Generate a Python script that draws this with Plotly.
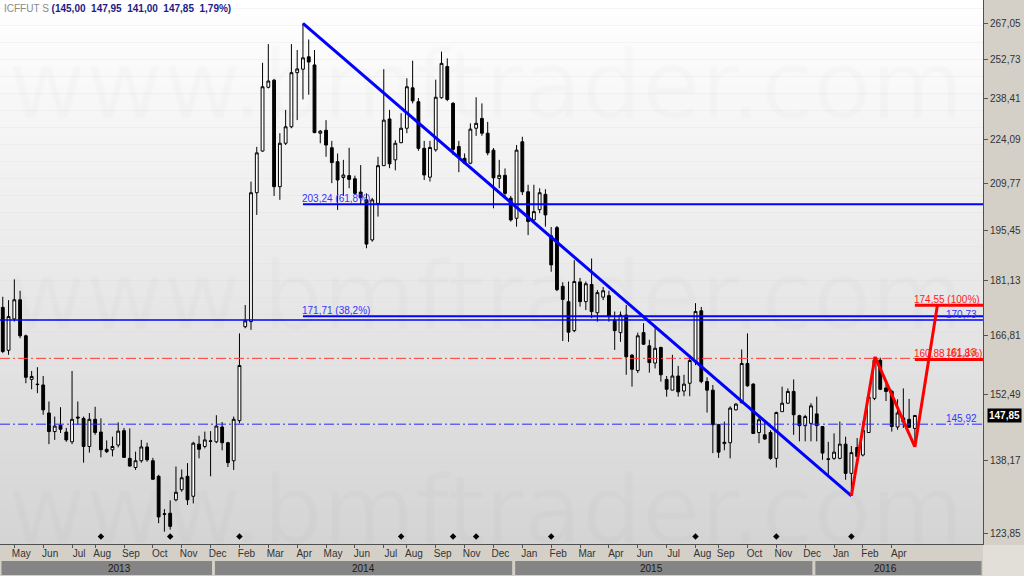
import math
import pandas as pd
import plotly.graph_objects as go

# ---------------- data (weekly bars, ICFFUT) ----------------
dates = pd.date_range("2013-04-22", periods=159, freq="7D")

opens = [174.0, 163.1, 171.0, 176.0, 166.7, 156.1, 155.0, 154.8, 148.4, 144.3,
         145.7, 144.2, 142.1, 147.5, 147.2, 141.1, 147.0, 144.2, 140.5, 140.4,
         141.4, 144.5, 138.6, 136.7, 138.1, 141.0, 138.1, 134.9, 127.5, 127.6,
         130.2, 132.2, 134.9, 130.9, 141.6, 141.1, 142.3, 142.1, 145.3, 141.9,
         138.1, 146.7, 169.0, 170.3, 206.8, 220.2, 242.4, 245.0, 208.7, 222.8,
         228.4, 247.8, 249.1, 253.8, 250.7, 226.2, 227.2, 221.3, 216.7, 211.6,
         212.2, 211.2, 207.0, 204.6, 192.6, 203.5, 215.4, 231.1, 217.3, 223.0,
         227.9, 242.2, 237.2, 221.1, 211.7, 220.6, 238.6, 250.1, 236.6, 221.7,
         217.8, 216.2, 227.9, 231.3, 226.2, 220.5, 211.3, 212.3, 205.1, 199.0,
         223.3, 207.1, 198.5, 201.6, 206.3, 193.8, 196.2, 179.6, 175.5, 168.0,
         180.8, 175.5, 180.1, 172.6, 176.7, 177.1, 170.7, 167.5, 172.0, 161.9,
         158.2, 167.5, 164.2, 160.0, 163.8, 156.1, 153.6, 156.9, 153.4, 155.2,
         160.3, 173.1, 155.6, 153.6, 145.8, 141.7, 141.9, 149.1, 150.7, 159.9,
         155.0, 144.1, 143.6, 144.1, 138.6, 148.7, 150.6, 153.3, 147.8, 145.6,
         146.1, 148.2, 145.4, 138.5, 138.6, 138.6, 141.6, 135.5, 140.9, 139.3,
         144.1, 151.7, 160.7, 154.1, 153.3, 145.3, 146.4, 147.0, 145.00]
highs = [176.8, 175.9, 181.5, 178.4, 167.0, 158.1, 159.0, 156.9, 151.0, 147.6,
         149.7, 145.1, 158.1, 151.0, 147.6, 148.4, 149.8, 147.2, 142.4, 143.2,
         146.3, 145.1, 145.0, 140.0, 142.5, 141.9, 138.7, 135.2, 128.4, 130.1,
         136.9, 136.3, 137.6, 142.1, 143.4, 144.3, 144.4, 147.9, 146.4, 142.1,
         147.6, 167.3, 174.6, 210.3, 221.6, 251.5, 258.7, 245.5, 226.2, 234.3,
         258.7, 256.4, 266.9, 260.5, 256.4, 227.3, 230.7, 223.6, 219.4, 217.3,
         221.3, 212.2, 215.6, 206.6, 205.2, 218.3, 249.1, 234.3, 223.8, 233.1,
         245.7, 252.3, 238.5, 223.6, 223.6, 245.2, 255.8, 253.2, 237.1, 223.6,
         219.4, 229.6, 238.8, 236.6, 230.1, 221.2, 217.3, 214.5, 205.8, 222.2,
         225.0, 209.3, 209.3, 208.2, 207.9, 196.4, 196.7, 180.7, 180.9, 186.8,
         181.9, 180.9, 187.3, 178.6, 179.4, 178.4, 172.9, 172.9, 174.6, 162.2,
         167.5, 169.9, 165.7, 168.6, 164.0, 156.9, 162.0, 159.3, 157.2, 161.9,
         175.1, 174.1, 156.6, 154.8, 146.0, 146.5, 149.9, 150.6, 163.3, 167.3,
         155.2, 147.6, 146.5, 144.6, 148.7, 154.4, 154.0, 156.1, 148.0, 148.0,
         150.6, 152.1, 145.4, 142.1, 143.9, 146.5, 143.2, 141.2, 142.9, 146.5,
         153.0, 161.5, 161.3, 155.2, 153.7, 151.5, 154.0, 151.6, 147.95]
lows = [162.4, 162.0, 170.3, 166.1, 155.2, 153.8, 152.9, 148.0, 141.6, 142.5,
        144.0, 142.1, 141.6, 145.8, 137.7, 139.8, 143.6, 138.8, 139.7, 139.0,
        140.9, 138.7, 136.9, 136.2, 137.7, 137.9, 134.2, 125.7, 124.1, 124.5,
        129.9, 131.8, 129.2, 129.5, 138.6, 140.7, 134.9, 141.8, 140.3, 136.8,
        136.2, 146.1, 168.6, 168.2, 200.0, 220.0, 242.0, 205.8, 204.6, 222.2,
        227.9, 230.7, 238.0, 239.7, 226.2, 222.8, 218.3, 209.8, 201.5, 205.8,
        208.2, 206.1, 203.0, 190.2, 192.1, 199.5, 215.3, 214.6, 213.9, 222.8,
        226.2, 236.6, 220.3, 210.8, 210.3, 220.0, 238.3, 237.4, 218.9, 213.3,
        215.9, 215.9, 225.3, 225.3, 218.8, 202.0, 208.2, 205.5, 198.0, 196.5,
        206.1, 194.0, 198.0, 200.5, 196.5, 183.6, 178.3, 165.4, 165.2, 167.6,
        174.2, 173.3, 171.2, 170.3, 175.9, 170.3, 163.2, 165.2, 157.2, 154.4,
        157.6, 164.4, 157.7, 158.7, 155.6, 152.1, 153.6, 152.1, 152.2, 152.2,
        159.5, 155.2, 148.5, 139.7, 138.7, 140.3, 138.6, 149.0, 150.6, 154.4,
        143.8, 141.8, 142.5, 138.3, 136.7, 148.7, 150.5, 143.6, 142.2, 142.2,
        142.2, 142.2, 138.3, 135.2, 138.3, 138.4, 134.2, 131.0, 139.0, 139.0,
        144.0, 151.3, 153.6, 151.1, 144.3, 144.7, 145.1, 145.1, 141.00]
closes = [162.8, 171.6, 176.0, 166.7, 156.6, 156.8, 154.9, 149.1, 144.3, 145.5,
          144.8, 142.5, 147.0, 147.3, 141.1, 147.0, 144.1, 140.4, 140.0, 141.1,
          144.4, 138.8, 137.0, 138.1, 141.0, 138.3, 134.3, 126.9, 127.4, 125.1,
          131.7, 134.6, 130.2, 141.8, 140.5, 142.5, 142.2, 145.5, 141.9, 137.7,
          147.0, 159.4, 170.5, 206.8, 219.6, 242.6, 244.7, 208.7, 222.8, 228.4,
          247.8, 249.2, 253.4, 251.8, 226.4, 226.9, 222.2, 216.4, 210.8, 212.4,
          211.0, 206.6, 205.3, 191.4, 204.6, 215.4, 230.7, 216.0, 222.8, 227.9,
          242.6, 237.5, 221.1, 212.4, 221.4, 238.8, 251.3, 238.0, 220.8, 218.3,
          216.2, 227.6, 229.6, 226.2, 219.6, 211.5, 212.3, 206.6, 198.5, 220.5,
          207.1, 198.0, 201.0, 206.8, 200.0, 185.5, 178.7, 176.1, 167.6, 180.9,
          175.5, 180.3, 172.9, 177.9, 178.4, 171.6, 168.0, 172.0, 161.5, 158.5,
          166.7, 164.6, 160.1, 163.6, 157.2, 153.8, 156.9, 153.2, 155.0, 160.6,
          172.9, 155.6, 153.6, 145.8, 139.9, 142.0, 149.5, 150.4, 159.9, 154.6,
          143.9, 146.9, 142.7, 138.6, 148.5, 150.6, 153.3, 148.0, 145.6, 147.6,
          150.0, 145.6, 139.7, 138.4, 139.9, 141.6, 135.5, 139.8, 139.0, 144.6,
          152.0, 160.7, 153.8, 153.3, 145.4, 148.4, 147.3, 145.25, 147.85]

price_ticks = [267.05, 252.73, 238.41, 224.09, 209.77, 195.45,
               181.13, 166.81, 152.49, 138.17, 123.85]
month_tick_bars = [2, 7, 12, 16, 21, 26, 31, 36, 41, 46, 51, 56, 61, 66, 70, 75,
                   80, 85, 90, 95, 100, 105, 110, 115, 120, 124, 129, 134, 139,
                   144, 149, 154]
month_tick_labels = [dates[i].strftime("%b") for i in month_tick_bars]

event_bars = [17, 29, 41, 69, 78, 82, 95, 120, 134, 147]
event_level = 123.2

# drawn studies
trend_bars = [52, 147]
trend_prices = [266.9, 131.0]
zigzag_bars = [147, 151.1, 158, 161.9]
zigzag_prices = [131.0, 161.5, 141.0, 174.55]
blue_fib_levels = [203.24, 171.71]
blue_fib_labels = ["61,8%", "38,2%"]
blue_fib_start = 52
red_fib_levels = [174.55, 160.88]
red_fib_labels = ["100%", "61,8%"]
red_fib_start = 158
solid_level = 170.73
blue_dd_level = 145.92
red_dd_level = 161.13

view_prices = [121.82, 276.47]
x_view = [-0.48, 169.8]

# ---------------- helpers ----------------
def br(v):
    return f"{v:.2f}".replace(".", ",")

def lg(v):
    return math.log10(v)

n = len(closes)
xs = list(range(n))
PLOT_H = 544.0

def xp(v):
    return (v - x_view[0]) / (x_view[1] - x_view[0])

def yp(px):
    return (PLOT_H - px) / PLOT_H

fig = go.Figure()

fig.add_trace(go.Candlestick(
    x=xs, open=opens, high=highs, low=lows, close=closes,
    increasing=dict(line=dict(color="#000000", width=1), fillcolor="#ffffff"),
    decreasing=dict(line=dict(color="#000000", width=1), fillcolor="#000000"),
    whiskerwidth=0, showlegend=False, hoverinfo="skip"))

fig.add_trace(go.Scatter(
    x=event_bars, y=[event_level] * len(event_bars), mode="markers",
    marker=dict(color="#000000", size=5, symbol="diamond"),
    showlegend=False, hoverinfo="skip"))

shapes = []
# background gradient
bands = 64
for i in range(bands):
    s = int(round(255 - (255 - 212) * (i + 0.5) / bands))
    shapes.append(dict(type="rect", xref="paper", yref="paper",
                       x0=0, x1=1, y0=1 - i / bands, y1=1 - (i + 1) / bands,
                       fillcolor=f"rgb({s},{s},{s})", line=dict(width=0),
                       layer="below"))

# horizontal levels
shapes.append(dict(type="line", xref="paper", yref="y", x0=0, x1=1,
                   y0=solid_level, y1=solid_level,
                   line=dict(color="#0000ff", width=1.5)))
shapes.append(dict(type="line", xref="paper", yref="y", x0=0, x1=1,
                   y0=blue_dd_level, y1=blue_dd_level,
                   line=dict(color="#2a2aff", width=1, dash="10px,3px,2px,3px")))
shapes.append(dict(type="line", xref="paper", yref="y", x0=0, x1=1,
                   y0=red_dd_level, y1=red_dd_level,
                   line=dict(color="#ff3c3c", width=1, dash="10px,3px,2px,3px")))
for lv in blue_fib_levels:
    shapes.append(dict(type="line", xref="x", yref="y", x0=blue_fib_start,
                       x1=x_view[1], y0=lv, y1=lv,
                       line=dict(color="#0000ff", width=2)))
for lv in red_fib_levels:
    shapes.append(dict(type="line", xref="x", yref="y", x0=red_fib_start,
                       x1=x_view[1], y0=lv, y1=lv,
                       line=dict(color="#ff0000", width=3)))
# trend line
shapes.append(dict(type="line", xref="x", yref="y",
                   x0=trend_bars[0], y0=trend_prices[0],
                   x1=trend_bars[1], y1=trend_prices[1],
                   line=dict(color="#0000ff", width=3)))
# zigzag
for i in range(len(zigzag_bars) - 1):
    shapes.append(dict(type="line", xref="x", yref="y",
                       x0=zigzag_bars[i], y0=zigzag_prices[i],
                       x1=zigzag_bars[i + 1], y1=zigzag_prices[i + 1],
                       line=dict(color="#ff0000", width=3)))

# year band below the month labels
years = sorted(set(d.year for d in dates))
year_ann = []
for yr in years:
    idx = [i for i, d in enumerate(dates) if d.year == yr]
    left = max(idx[0] - 0.5, x_view[0])
    right = idx[-1] + 0.5 if yr != years[-1] else x_view[1]
    p0, p1 = xp(left), xp(right)
    shapes.append(dict(type="rect", xref="paper", yref="paper",
                       x0=p0 + 0.0015, x1=p1 - 0.0015, y0=yp(575), y1=yp(561),
                       fillcolor="#858585", line=dict(width=0)))
    year_ann.append(dict(x=(p0 + p1) / 2, y=yp(568), xref="paper", yref="paper",
                         yanchor="middle", text=str(yr), showarrow=False,
                         borderpad=0,
                         font=dict(family="Liberation Sans", size=10, color="#1a1a1a")))
# lower-right corner block
shapes.append(dict(type="rect", xref="paper", yref="paper", x0=1.0, x1=1024 / 983,
                   y0=yp(576), y1=yp(545), fillcolor="#e2dfd8",
                   line=dict(width=0)))

ann = []
# watermark rows
for base in [118, 329, 543]:
    ann.append(dict(x=0, xref="paper", xanchor="left", xshift=6,
                    y=yp(base + 24), yref="paper", yanchor="bottom",
                    text="www.bmftrader.com", showarrow=False,
                    font=dict(family="DejaVu Sans", size=95,
                              color="rgba(255,255,255,0.02)",
                              shadow="1px 0 0 rgba(90,90,90,0.13), -1px 0 0 rgba(90,90,90,0.13), 0 1px 0 rgba(90,90,90,0.13), 0 -1px 0 rgba(90,90,90,0.13)")))

lab_font_b = dict(family="Liberation Sans", size=10, color="#3434ff")
lab_font_r = dict(family="Liberation Sans", size=10, color="#ff2020")
for lv, txt in zip(blue_fib_levels, blue_fib_labels):
    ann.append(dict(x=blue_fib_start, y=lg(lv), xref="x", yref="y",
                    xanchor="left", yanchor="bottom", yshift=-2, xshift=-3,
                    text=f"{br(lv)} ({txt})", showarrow=False, font=lab_font_b))
for lv, txt in zip(red_fib_levels, red_fib_labels):
    ann.append(dict(x=red_fib_start, y=lg(lv), xref="x", yref="y",
                    xanchor="left", yanchor="bottom", yshift=-2, xshift=-3,
                    text=f"{br(lv)} ({txt})", showarrow=False, font=lab_font_r))
ann.append(dict(x=1, xref="paper", xanchor="right", xshift=-4, y=lg(solid_level),
                yref="y", yanchor="bottom", yshift=-2, text=br(solid_level),
                showarrow=False, font=lab_font_b))
ann.append(dict(x=1, xref="paper", xanchor="right", xshift=-4, y=lg(blue_dd_level),
                yref="y", yanchor="bottom", yshift=-2, text=br(blue_dd_level),
                showarrow=False, font=lab_font_b))
ann.append(dict(x=1, xref="paper", xanchor="right", xshift=-4, y=lg(red_dd_level),
                yref="y", yanchor="bottom", yshift=-2, text=br(red_dd_level),
                showarrow=False, font=lab_font_r))

# last price tag
ann.append(dict(x=1, xref="paper", xanchor="left", xshift=4, y=lg(closes[-1]),
                yref="y", yanchor="middle", text=f"<b>{br(closes[-1])}</b>",
                showarrow=False, bgcolor="#000000", borderpad=1,
                font=dict(family="Liberation Sans", size=10, color="#ffffff")))

# title
pct = (closes[-1] / closes[-2] - 1) * 100
title_vals = f"({br(opens[-1])}  {br(highs[-1])}  {br(lows[-1])}  {br(closes[-1])}  {br(pct)}%)"
ann.append(dict(x=0, xref="paper", xanchor="left", xshift=2, y=1, yref="paper",
                yanchor="top", yshift=-1,
                text=f"<span style='color:#8a8a8a'>ICFFUT S</span> <b>{title_vals}</b>",
                showarrow=False,
                font=dict(family="Liberation Sans", size=10, color="#1c1c88")))
ann.extend(year_ann)

fig.update_layout(
    width=1024, height=576, autosize=False,
    margin=dict(l=0, r=41, t=0, b=32, pad=0),
    paper_bgcolor="#d4d0c8", plot_bgcolor="#d8d8d8",
    shapes=shapes, annotations=ann, showlegend=False,
    xaxis=dict(type="linear", range=x_view, rangeslider=dict(visible=False),
               tickvals=month_tick_bars, ticktext=month_tick_labels,
               ticks="outside", ticklen=3, tickcolor="#555555",
               ticklabelshift=7, ticklabelstandoff=-3,
               tickfont=dict(family="Liberation Sans", size=10, color="#333333"),
               showgrid=False, zeroline=False, showline=True,
               linecolor="#505050", linewidth=1, fixedrange=True),
    yaxis=dict(type="log", range=[lg(view_prices[0]), lg(view_prices[1])],
               side="right", tickvals=price_ticks,
               ticktext=[br(v) for v in price_ticks],
               ticks="outside", ticklen=4, tickcolor="#555555",
               tickfont=dict(family="Liberation Sans", size=10, color="#333333"),
               showgrid=False, zeroline=False, showline=True,
               linecolor="#505050", linewidth=1, fixedrange=True),
)

fig.write_html(
    "out.html",
    config={"displayModeBar": False},
    post_script="document.body.style.margin='0';document.body.style.overflow='hidden';",
)
